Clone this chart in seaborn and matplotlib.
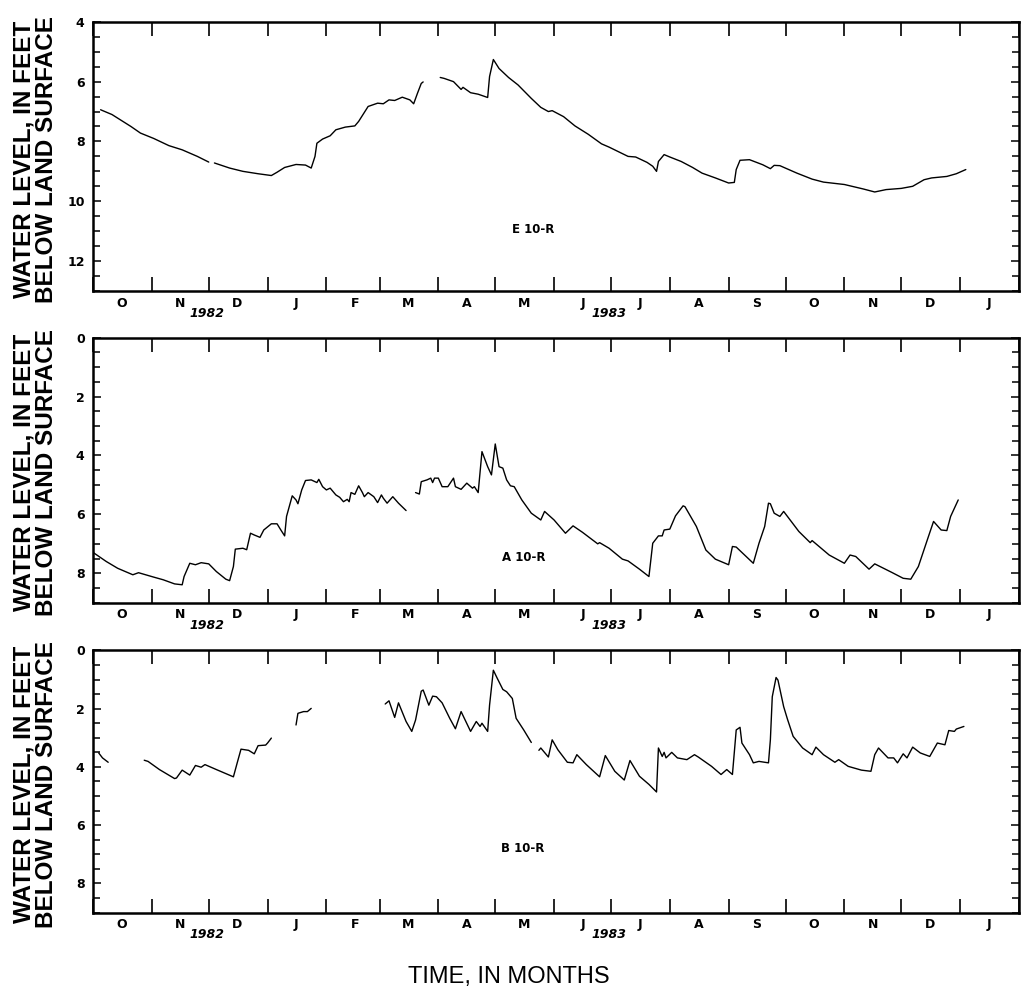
import pandas as pd
import matplotlib
matplotlib.use('Agg')
import matplotlib.pyplot as plt
import matplotlib.dates as mdates
from matplotlib.ticker import MultipleLocator, FuncFormatter, NullFormatter
import seaborn as sns

# Water levels in feet below land surface; None marks a break in the record
e10r_dates = ['1982-10-05', '1982-10-11', '1982-10-21', '1982-10-26', '1982-11-02', '1982-11-10',
              '1982-11-17', '1982-11-25', '1982-12-01', None,
              '1982-12-04', '1982-12-12', '1982-12-19', '1982-12-27', '1983-01-03', '1983-01-06',
              '1983-01-10', '1983-01-16', '1983-01-21', '1983-01-24', '1983-01-26', '1983-01-27',
              '1983-01-30', '1983-02-03', '1983-02-06', '1983-02-11', '1983-02-16', '1983-02-18',
              '1983-02-23', '1983-02-28', '1983-03-03', '1983-03-06', '1983-03-09', '1983-03-13',
              '1983-03-17', '1983-03-19', '1983-03-21', '1983-03-23', '1983-03-24', None,
              '1983-04-02', '1983-04-04', '1983-04-09', '1983-04-13', '1983-04-14', '1983-04-18',
              '1983-04-22', '1983-04-27', '1983-04-28', '1983-04-30', '1983-05-03', '1983-05-08',
              '1983-05-13', '1983-05-20', '1983-05-25', '1983-05-29', '1983-05-31', '1983-06-06',
              '1983-06-12', '1983-06-19', '1983-06-26', '1983-06-30', '1983-07-10', '1983-07-14',
              '1983-07-20', '1983-07-23', '1983-07-25', '1983-07-26', '1983-07-29', '1983-08-01',
              '1983-08-07', '1983-08-13', '1983-08-18', '1983-08-25', '1983-09-01', '1983-09-04',
              '1983-09-05', '1983-09-07', '1983-09-12', '1983-09-19', '1983-09-23', '1983-09-25',
              '1983-09-28', '1983-10-07', '1983-10-15', '1983-10-21', '1983-11-01', '1983-11-11',
              '1983-11-17', '1983-11-23', '1983-12-01', '1983-12-07', '1983-12-13', '1983-12-17',
              '1983-12-25', '1983-12-30', '1984-01-04']
e10r_level = [6.94, 7.10, 7.50, 7.72, 7.90, 8.14,
              8.28, 8.50, 8.69, None,
              8.72, 8.89, 9.00, 9.08, 9.14, 9.03,
              8.87, 8.77, 8.79, 8.89, 8.50, 8.06,
              7.92, 7.81, 7.61, 7.52, 7.48, 7.33,
              6.83, 6.72, 6.74, 6.61, 6.63, 6.52,
              6.61, 6.74, 6.39, 6.06, 6.01, None,
              5.86, 5.89, 6.00, 6.26, 6.19, 6.37,
              6.42, 6.53, 5.83, 5.26, 5.56, 5.86,
              6.11, 6.56, 6.86, 7.00, 6.97, 7.17,
              7.48, 7.76, 8.08, 8.19, 8.50, 8.52,
              8.70, 8.83, 9.00, 8.67, 8.44, 8.52,
              8.67, 8.87, 9.06, 9.22, 9.39, 9.37,
              8.94, 8.63, 8.61, 8.78, 8.91, 8.80,
              8.81, 9.06, 9.26, 9.36, 9.44, 9.59,
              9.69, 9.61, 9.57, 9.50, 9.28, 9.22,
              9.17, 9.08, 8.94]

a10r_dates = ['1982-10-01', '1982-10-08', '1982-10-14', '1982-10-22', '1982-10-25', '1982-11-02',
              '1982-11-07', '1982-11-13', '1982-11-17', '1982-11-18', '1982-11-21', '1982-11-24',
              '1982-11-27', '1982-12-01', '1982-12-05', '1982-12-10', '1982-12-12', '1982-12-14',
              '1982-12-15', '1982-12-19', '1982-12-21', '1982-12-23', '1982-12-25', '1982-12-28',
              '1982-12-30', '1983-01-03', '1983-01-06', '1983-01-08', '1983-01-10', '1983-01-11',
              '1983-01-14', '1983-01-16', '1983-01-17', '1983-01-19', '1983-01-21', '1983-01-24',
              '1983-01-27', '1983-01-28', '1983-01-30', '1983-02-01', '1983-02-03', '1983-02-06',
              '1983-02-08', '1983-02-10', '1983-02-12', '1983-02-13', '1983-02-14', '1983-02-16',
              '1983-02-18', '1983-02-20', '1983-02-21', '1983-02-23', '1983-02-26', '1983-02-28',
              '1983-03-02', '1983-03-03', '1983-03-05', '1983-03-08', '1983-03-11', '1983-03-15', None,
              '1983-03-20', '1983-03-22', '1983-03-23', '1983-03-26', '1983-03-28', '1983-03-29',
              '1983-03-30', '1983-04-01', '1983-04-03', '1983-04-06', '1983-04-09', '1983-04-10',
              '1983-04-13', '1983-04-16', '1983-04-19', '1983-04-20', '1983-04-22', '1983-04-24',
              '1983-04-27', '1983-04-29', '1983-05-01', '1983-05-03', '1983-05-05', '1983-05-07',
              '1983-05-09', '1983-05-11', '1983-05-15', '1983-05-20', '1983-05-25', '1983-05-27',
              '1983-06-01', '1983-06-07', '1983-06-11', '1983-06-16', '1983-06-24', '1983-06-25',
              '1983-06-30', '1983-07-07', '1983-07-10', '1983-07-16', '1983-07-21', '1983-07-23',
              '1983-07-26', '1983-07-28', '1983-07-29', '1983-08-01', '1983-08-04', '1983-08-08',
              '1983-08-09', '1983-08-15', '1983-08-20', '1983-08-25', '1983-09-01', '1983-09-03',
              '1983-09-05', '1983-09-14', '1983-09-17', '1983-09-20', '1983-09-22', '1983-09-23',
              '1983-09-25', '1983-09-28', '1983-09-30', '1983-10-08', '1983-10-14', '1983-10-15',
              '1983-10-24', '1983-11-01', '1983-11-04', '1983-11-07', '1983-11-14', '1983-11-17',
              '1983-11-26', '1983-12-02', '1983-12-06', '1983-12-10', '1983-12-15', '1983-12-18',
              '1983-12-22', '1983-12-25', '1983-12-27', '1983-12-31']
a10r_level = [7.29, 7.60, 7.83, 8.05, 7.98, 8.13,
              8.22, 8.36, 8.39, 8.11, 7.66, 7.71,
              7.64, 7.68, 7.94, 8.20, 8.25, 7.77,
              7.18, 7.15, 7.20, 6.64, 6.70, 6.78,
              6.53, 6.32, 6.32, 6.53, 6.73, 6.07,
              5.37, 5.51, 5.64, 5.17, 4.85, 4.83,
              4.92, 4.81, 5.06, 5.17, 5.11, 5.34,
              5.42, 5.57, 5.49, 5.57, 5.26, 5.32,
              5.03, 5.26, 5.40, 5.26, 5.40, 5.60,
              5.34, 5.45, 5.62, 5.40, 5.62, 5.87, None,
              5.26, 5.31, 4.89, 4.83, 4.77, 4.92,
              4.77, 4.77, 5.06, 5.06, 4.77, 5.06,
              5.15, 4.94, 5.11, 5.06, 5.26, 3.87,
              4.38, 4.66, 3.61, 4.38, 4.43, 4.83,
              5.03, 5.06, 5.51, 5.96, 6.19, 5.90,
              6.19, 6.64, 6.39, 6.61, 7.00, 6.96,
              7.15, 7.52, 7.58, 7.86, 8.11, 6.98,
              6.73, 6.73, 6.53, 6.50, 6.05, 5.71,
              5.74, 6.41, 7.21, 7.52, 7.71, 7.09,
              7.11, 7.66, 6.98, 6.41, 5.62, 5.64,
              5.96, 6.07, 5.90, 6.58, 6.96, 6.89,
              7.38, 7.66, 7.38, 7.43, 7.86, 7.68,
              7.97, 8.17, 8.20, 7.77, 6.81, 6.24,
              6.53, 6.55, 6.07, 5.51]

b10r_dates = ['1982-10-04', '1982-10-06', '1982-10-09', None,
              '1982-10-28', '1982-10-30', '1982-11-05', '1982-11-13', '1982-11-14', '1982-11-17',
              '1982-11-21', '1982-11-24', '1982-11-27', '1982-11-29', '1982-12-05', '1982-12-14',
              '1982-12-16', '1982-12-18', '1982-12-22', '1982-12-25', '1982-12-27', '1982-12-31',
              '1983-01-01', '1983-01-03', None,
              '1983-01-16', '1983-01-17', '1983-01-20', '1983-01-22', '1983-01-24', None,
              '1983-03-04', '1983-03-06', '1983-03-09', '1983-03-11', '1983-03-15', '1983-03-18',
              '1983-03-20', '1983-03-23', '1983-03-24', '1983-03-27', '1983-03-29', '1983-03-31',
              '1983-04-03', '1983-04-07', '1983-04-10', '1983-04-13', '1983-04-18', '1983-04-21',
              '1983-04-23', '1983-04-24', '1983-04-27', '1983-04-28', '1983-04-30', '1983-05-02',
              '1983-05-05', '1983-05-07', '1983-05-10', '1983-05-12', '1983-05-16', '1983-05-20', None,
              '1983-05-24', '1983-05-25', '1983-05-29', '1983-05-31', '1983-06-03', '1983-06-08',
              '1983-06-11', '1983-06-13', '1983-06-18', '1983-06-25', '1983-06-28', '1983-07-03',
              '1983-07-08', '1983-07-11', '1983-07-16', '1983-07-21', '1983-07-25', '1983-07-26',
              '1983-07-28', '1983-07-29', '1983-07-30', '1983-08-02', '1983-08-05', '1983-08-10',
              '1983-08-14', '1983-08-16', '1983-08-23', '1983-08-28', '1983-08-31', '1983-09-03',
              '1983-09-05', '1983-09-07', '1983-09-08', '1983-09-12', '1983-09-14', '1983-09-17',
              '1983-09-22', '1983-09-23', '1983-09-24', '1983-09-26', '1983-09-27', '1983-09-30',
              '1983-10-02', '1983-10-05', '1983-10-10', '1983-10-15', '1983-10-17', '1983-10-21',
              '1983-10-27', '1983-10-29', '1983-11-03', '1983-11-10', '1983-11-15', '1983-11-17',
              '1983-11-19', '1983-11-24', '1983-11-27', '1983-11-29', '1983-12-02', '1983-12-04',
              '1983-12-07', '1983-12-11', '1983-12-16', '1983-12-20', '1983-12-24', '1983-12-26',
              '1983-12-29', '1983-12-30', '1984-01-03']
b10r_level = [3.52, 3.69, 3.84, None,
              3.77, 3.81, 4.09, 4.40, 4.38, 4.11,
              4.28, 3.95, 4.01, 3.92, 4.09, 4.34,
              3.86, 3.39, 3.43, 3.55, 3.27, 3.25,
              3.18, 3.01, None,
              2.56, 2.16, 2.10, 2.10, 1.99, None,
              1.84, 1.73, 2.30, 1.80, 2.44, 2.78,
              2.39, 1.40, 1.36, 1.88, 1.57, 1.59,
              1.80, 2.33, 2.69, 2.10, 2.78, 2.44,
              2.61, 2.50, 2.78, 1.88, 0.68, 0.95,
              1.34, 1.42, 1.65, 2.33, 2.73, 3.16, None,
              3.43, 3.35, 3.66, 3.07, 3.41, 3.84,
              3.86, 3.58, 3.92, 4.34, 3.61, 4.15,
              4.45, 3.78, 4.32, 4.60, 4.86, 3.35,
              3.64, 3.50, 3.69, 3.50, 3.69, 3.75,
              3.58, 3.66, 3.98, 4.26, 4.09, 4.26,
              2.73, 2.64, 3.18, 3.58, 3.86, 3.81,
              3.86, 3.07, 1.59, 0.93, 1.02, 1.93,
              2.36, 2.95, 3.35, 3.58, 3.32, 3.58,
              3.84, 3.75, 3.98, 4.11, 4.15, 3.58,
              3.35, 3.69, 3.69, 3.86, 3.55, 3.69,
              3.32, 3.52, 3.64, 3.18, 3.24, 2.75,
              2.78, 2.70, 2.61]

wells = ['E 10-R', 'A 10-R', 'B 10-R']
depth_limits = [(13, 4), (9, 0), (9, 0)]
year_labels = [('1982', '1982-11-30'), ('1983', '1983-06-30')]


def well_frame(dates, levels):
    # split the record into continuous pieces wherever there is a None
    rows = []
    seg = 0
    for d, v in zip(dates, levels):
        if d is None:
            seg += 1
            continue
        rows.append((pd.Timestamp(d), v, seg))
    return pd.DataFrame(rows, columns=['date', 'level', 'seg'])


frames = [well_frame(e10r_dates, e10r_level),
          well_frame(a10r_dates, a10r_level),
          well_frame(b10r_dates, b10r_level)]

sns.set_style('ticks')
plt.rcParams['font.family'] = ['DejaVu Sans']
plt.rcParams['axes.linewidth'] = 1.8
for key in ['text.color', 'axes.labelcolor', 'axes.edgecolor', 'xtick.color', 'ytick.color']:
    plt.rcParams[key] = 'black'

fig = plt.figure(figsize=(10.22, 9.93), dpi=100)
boxes = [(0.091, 0.707, 0.906, 0.271),
         (0.091, 0.393, 0.906, 0.267),
         (0.091, 0.081, 0.906, 0.264)]
label_pos = [(0.452, 0.227), (0.442, 0.170), (0.441, 0.243)]

for box, df, name, ylim, lpos in zip(boxes, frames, wells, depth_limits, label_pos):
    ax = fig.add_axes(box)
    sns.lineplot(data=df, x='date', y='level', units='seg', estimator=None,
                 color='black', lw=1.0, sort=False, ax=ax)
    ax.set_xlim(pd.Timestamp('1982-10-01'), pd.Timestamp('1984-02-01'))
    ax.set_ylim(*ylim)

    # month boundaries as ticks, month initials centred between them
    ax.xaxis.set_major_locator(mdates.MonthLocator())
    ax.xaxis.set_major_formatter(NullFormatter())
    ax.xaxis.set_minor_locator(mdates.MonthLocator(bymonthday=16))
    ax.xaxis.set_minor_formatter(FuncFormatter(
        lambda x, pos: mdates.num2date(x).strftime('%b')[0]))
    ax.tick_params(axis='x', which='major', direction='in', length=10, width=1.2,
                   top=True, bottom=True)
    ax.tick_params(axis='x', which='minor', length=0, pad=4, labelsize=9)

    ax.yaxis.set_major_locator(MultipleLocator(2))
    ax.yaxis.set_minor_locator(MultipleLocator(0.5))
    ax.tick_params(axis='y', which='both', direction='in', length=6, width=1.1,
                   left=True, right=True, pad=6, labelsize=9)
    ax.tick_params(axis='y', which='minor', length=5)
    for lbl in ax.get_xticklabels(minor=True) + ax.get_yticklabels():
        lbl.set_fontweight('bold')

    ax.set_xlabel('')
    ax.set_ylabel('WATER LEVEL, IN FEET\nBELOW LAND SURFACE', family='Liberation Sans',
                  fontsize=17.5, fontweight='bold', linespacing=0.98)
    ax.yaxis.set_label_coords(-0.038, 0.49)

    ax.text(lpos[0], lpos[1], name, transform=ax.transAxes, fontsize=8.5,
            fontweight='bold', ha='left', va='center')
    for year, day in year_labels:
        ax.text(pd.Timestamp(day), -0.085, year, transform=ax.get_xaxis_transform(),
                fontsize=9, fontweight='bold', style='italic', ha='center', va='center')

fig.text(0.498, 0.016, 'TIME, IN MONTHS', family='Liberation Sans', fontsize=17,
         ha='center', va='center')

fig.savefig('out.png', dpi=100)
